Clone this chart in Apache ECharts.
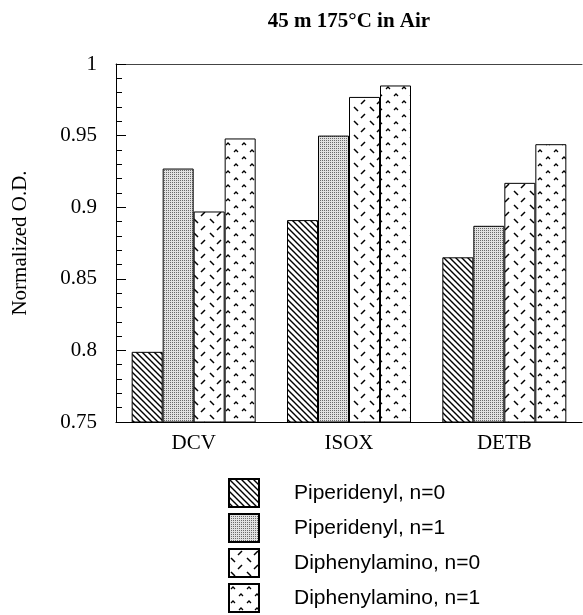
<!DOCTYPE html>
<html>
<head>
<meta charset="utf-8">
<script src="https://cdn.jsdelivr.net/npm/echarts@6/dist/echarts.min.js"></script>
<style>
html,body{margin:0;padding:0;background:#fff}
#main{width:583px;height:615px}
</style>
</head>
<body>
<div id="main"></div>
<script>
// data
var categories = ['DCV', 'ISOX', 'DETB'];
var seriesNames = ['Piperidenyl, n=0', 'Piperidenyl, n=1', 'Diphenylamino, n=0', 'Diphenylamino, n=1'];
var pip0 = [0.799, 0.891, 0.865];
var pip1 = [0.927, 0.950, 0.887];
var dip0 = [0.897, 0.977, 0.917];
var dip1 = [0.948, 0.985, 0.944];
var yMin = 0.75, yMax = 1, yStep = 0.05;

// little canvas tiles for the fill patterns
function tile(w, h, bg, draw) {
	var c = document.createElement('canvas');
	c.width = w; c.height = h;
	var ctx = c.getContext('2d');
	ctx.fillStyle = bg;
	ctx.fillRect(0, 0, w, h);
	ctx.strokeStyle = '#000';
	draw(ctx);
	return { image: c, repeat: 'repeat' };
}
var hatch = tile(6, 6, '#fff', function (ctx) {
	ctx.lineWidth = 1.4;
	ctx.beginPath();
	ctx.moveTo(-1, -1); ctx.lineTo(7, 7);
	ctx.moveTo(-1, 5); ctx.lineTo(1, 7);
	ctx.moveTo(5, -1); ctx.lineTo(7, 1);
	ctx.stroke();
});
var stipple = tile(2, 2, '#e2e2e2', function (ctx) {
	ctx.fillStyle = '#6a6a6a';
	ctx.fillRect(0, 0, 1, 1);
});
var dashes = tile(16, 14, '#fff', function (ctx) {
	ctx.lineWidth = 1.5;
	ctx.beginPath();
	ctx.moveTo(9, 6); ctx.lineTo(13, 2);
	ctx.moveTo(2, 9); ctx.lineTo(6, 13);
	ctx.stroke();
});
var chevrons = tile(16, 14, '#fff', function (ctx) {
	ctx.lineWidth = 1.3;
	ctx.beginPath();
	ctx.moveTo(2, 5); ctx.lineTo(4, 3); ctx.lineTo(6, 5);
	ctx.moveTo(10, 12); ctx.lineTo(12, 10); ctx.lineTo(14, 12);
	ctx.stroke();
});

var fills = [hatch, stipple, dashes, chevrons];
var values = [pip0, pip1, dip0, dip1];
var series = [];
for (var i = 0; i < seriesNames.length; i++) {
	series.push({
		name: seriesNames[i],
		type: 'bar',
		barWidth: 31,
		barGap: '0%',
		data: values[i],
		itemStyle: { color: fills[i], borderColor: '#000', borderWidth: 1 }
	});
}

var serif = '"Liberation Serif", "Times New Roman", serif';
var myChart = echarts.init(document.getElementById('main'));
var option = {
	animation: false,
	backgroundColor: '#fff',
	grid: { left: 116, right: 1, top: 64, bottom: 193 },
	graphic: [{
		type: 'text',
		x: 349, y: 22,
		style: {
			text: '45 m 175°C in Air',
			font: 'bold 21px ' + serif,
			fill: '#000',
			align: 'center',
			verticalAlign: 'middle'
		}
	}],
	legend: {
		orient: 'vertical',
		left: 228, top: 478,
		height: 150,
		padding: 0,
		itemWidth: 30, itemHeight: 28, itemGap: 5,
		icon: 'rect',
		data: seriesNames,
		textStyle: {
			fontFamily: '"Liberation Sans", Arial, sans-serif',
			fontSize: 21, lineHeight: 22, color: '#000',
			padding: [0, 0, 0, 30]
		}
	},
	xAxis: [{
		type: 'category',
		data: categories,
		axisLine: { lineStyle: { color: '#000', width: 1 } },
		axisTick: { inside: true, length: 10, lineStyle: { color: '#000' } },
		axisLabel: { fontFamily: serif, fontSize: 21, color: '#000', margin: 11 }
	}, {
		type: 'category',
		data: categories,
		position: 'top',
		axisLine: { lineStyle: { color: '#444', width: 1 } },
		axisTick: { show: false },
		axisLabel: { show: false }
	}],
	yAxis: {
		type: 'value',
		min: yMin, max: yMax, interval: yStep,
		name: 'Normalized O.D.',
		nameLocation: 'middle',
		nameGap: 85,
		nameTextStyle: { fontFamily: serif, fontSize: 21, color: '#000' },
		axisLine: { show: true, lineStyle: { color: '#000', width: 1 } },
		axisTick: { show: true, inside: true, length: 10, lineStyle: { color: '#000' } },
		minorTick: { show: true, splitNumber: 5, length: 6, lineStyle: { color: '#000' } },
		splitLine: { show: false },
		axisLabel: { fontFamily: serif, fontSize: 21, color: '#000', margin: 19 }
	},
	series: series
};
myChart.setOption(option, true);
</script>
</body>
</html>
